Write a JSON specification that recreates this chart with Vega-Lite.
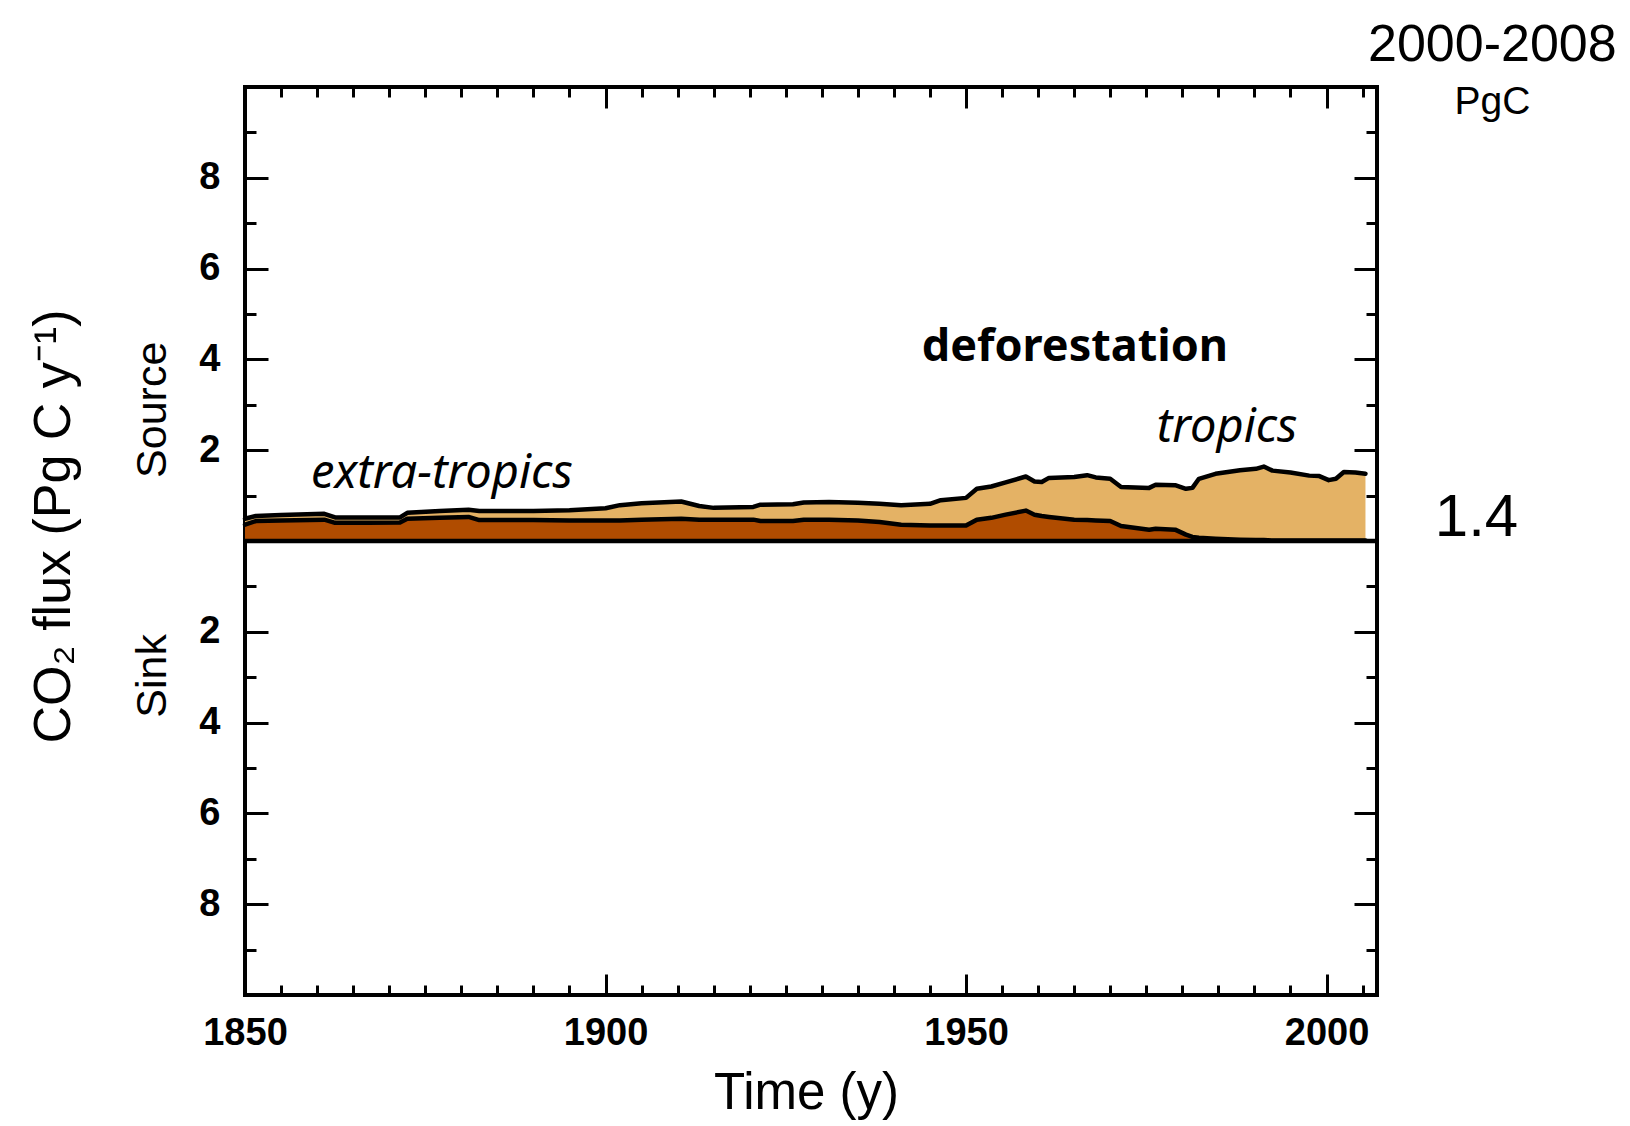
{
  "$schema": "https://vega.github.io/schema/vega-lite/v6.json",
  "autosize": {"type": "none"},
  "width": 1132,
  "height": 908,
  "padding": {"left": 245, "top": 87, "right": 253, "bottom": 131},
  "background": "white",
  "config": {
    "view": {"stroke": "black", "strokeWidth": 4},
    "axis": {"domain": false, "grid": false, "tickColor": "black", "tickWidth": 3, "labelColor": "black", "titleColor": "black"}
  },
  "datasets": {
    "flux": [
      {"year": 1850, "extra-tropics": 0.36, "tropics": 0.13},
      {"year": 1851.5, "extra-tropics": 0.44, "tropics": 0.11},
      {"year": 1855, "extra-tropics": 0.45, "tropics": 0.12},
      {"year": 1861, "extra-tropics": 0.47, "tropics": 0.13},
      {"year": 1862.5, "extra-tropics": 0.40, "tropics": 0.12},
      {"year": 1867, "extra-tropics": 0.40, "tropics": 0.12},
      {"year": 1871.5, "extra-tropics": 0.41, "tropics": 0.11},
      {"year": 1872.5, "extra-tropics": 0.49, "tropics": 0.13},
      {"year": 1877, "extra-tropics": 0.51, "tropics": 0.15},
      {"year": 1881, "extra-tropics": 0.53, "tropics": 0.16},
      {"year": 1882.5, "extra-tropics": 0.46, "tropics": 0.20},
      {"year": 1890, "extra-tropics": 0.46, "tropics": 0.20},
      {"year": 1895, "extra-tropics": 0.45, "tropics": 0.23},
      {"year": 1900, "extra-tropics": 0.45, "tropics": 0.27},
      {"year": 1902, "extra-tropics": 0.45, "tropics": 0.34},
      {"year": 1905, "extra-tropics": 0.47, "tropics": 0.36},
      {"year": 1910.5, "extra-tropics": 0.49, "tropics": 0.38},
      {"year": 1913, "extra-tropics": 0.47, "tropics": 0.30},
      {"year": 1915, "extra-tropics": 0.47, "tropics": 0.26},
      {"year": 1920.5, "extra-tropics": 0.47, "tropics": 0.28},
      {"year": 1921.5, "extra-tropics": 0.44, "tropics": 0.36},
      {"year": 1926, "extra-tropics": 0.44, "tropics": 0.37},
      {"year": 1927.5, "extra-tropics": 0.47, "tropics": 0.38},
      {"year": 1931, "extra-tropics": 0.47, "tropics": 0.39},
      {"year": 1935, "extra-tropics": 0.45, "tropics": 0.39},
      {"year": 1938, "extra-tropics": 0.42, "tropics": 0.40},
      {"year": 1941, "extra-tropics": 0.36, "tropics": 0.43},
      {"year": 1945, "extra-tropics": 0.34, "tropics": 0.48},
      {"year": 1946.5, "extra-tropics": 0.34, "tropics": 0.56},
      {"year": 1950, "extra-tropics": 0.34, "tropics": 0.61},
      {"year": 1951.5, "extra-tropics": 0.47, "tropics": 0.68},
      {"year": 1953.5, "extra-tropics": 0.51, "tropics": 0.69},
      {"year": 1955.5, "extra-tropics": 0.58, "tropics": 0.71},
      {"year": 1958.3, "extra-tropics": 0.67, "tropics": 0.75},
      {"year": 1959.5, "extra-tropics": 0.58, "tropics": 0.73},
      {"year": 1960.5, "extra-tropics": 0.55, "tropics": 0.75},
      {"year": 1961.5, "extra-tropics": 0.53, "tropics": 0.86},
      {"year": 1965, "extra-tropics": 0.47, "tropics": 0.94},
      {"year": 1966.8, "extra-tropics": 0.46, "tropics": 0.99},
      {"year": 1968, "extra-tropics": 0.45, "tropics": 0.95},
      {"year": 1970, "extra-tropics": 0.44, "tropics": 0.93},
      {"year": 1971.5, "extra-tropics": 0.33, "tropics": 0.86},
      {"year": 1975.4, "extra-tropics": 0.25, "tropics": 0.92},
      {"year": 1976.3, "extra-tropics": 0.27, "tropics": 0.97},
      {"year": 1979, "extra-tropics": 0.25, "tropics": 0.98},
      {"year": 1980.5, "extra-tropics": 0.14, "tropics": 1.01},
      {"year": 1981.4, "extra-tropics": 0.09, "tropics": 1.08},
      {"year": 1982.3, "extra-tropics": 0.07, "tropics": 1.30},
      {"year": 1984.6, "extra-tropics": 0.05, "tropics": 1.43},
      {"year": 1988, "extra-tropics": 0.03, "tropics": 1.53},
      {"year": 1990.2, "extra-tropics": 0.02, "tropics": 1.57},
      {"year": 1991.3, "extra-tropics": 0.02, "tropics": 1.62},
      {"year": 1992.5, "extra-tropics": 0.01, "tropics": 1.54},
      {"year": 1995, "extra-tropics": 0.01, "tropics": 1.50},
      {"year": 1997.6, "extra-tropics": 0.01, "tropics": 1.43},
      {"year": 1999, "extra-tropics": 0.01, "tropics": 1.42},
      {"year": 2000.3, "extra-tropics": 0.01, "tropics": 1.33},
      {"year": 2001.3, "extra-tropics": 0.01, "tropics": 1.36},
      {"year": 2002.4, "extra-tropics": 0.01, "tropics": 1.51},
      {"year": 2004, "extra-tropics": 0.01, "tropics": 1.50},
      {"year": 2005.4, "extra-tropics": 0.01, "tropics": 1.47}
    ]
  },
  "layer": [
    {
      "data": {"name": "flux"},
      "transform": [
        {"fold": ["extra-tropics", "tropics"], "as": ["region", "flux"]},
        {"stack": "flux", "groupby": ["year"], "sort": [{"field": "region", "order": "ascending"}], "as": ["y0", "y1"]}
      ],
      "mark": {"type": "area", "interpolate": "linear"},
      "encoding": {
        "x": {
          "field": "year", "type": "quantitative",
          "scale": {"domain": [1850, 2007], "nice": false, "zero": false},
          "axis": {
            "orient": "bottom",
            "values": [1850,1855,1860,1865,1870,1875,1880,1885,1890,1895,1900,1905,1910,1915,1920,1925,1930,1935,1940,1945,1950,1955,1960,1965,1970,1975,1980,1985,1990,1995,2000,2005],
            "format": "d",
            "tickSize": {"condition": {"test": "datum.value % 50 === 0", "value": -21}, "value": -10},
            "labelExpr": "datum.value % 50 === 0 ? datum.label : ''",
            "labelFont": "Liberation Sans", "labelFontSize": 38, "labelFontWeight": "bold",
            "labelPadding": 40, "labelFlush": false, "labelOverlap": false,
            "title": "Time (y)",
            "titleFont": "Liberation Sans",
            "titleFontSize": 51, "titleFontWeight": "normal",
            "titleX": 561, "titleY": 113, "titleAlign": "center", "titleBaseline": "alphabetic", "titleAnchor": null
          }
        },
        "y": {
          "field": "y1", "type": "quantitative",
          "scale": {"domain": [-10, 10], "nice": false, "zero": false},
          "axis": {
            "orient": "left",
            "values": [-9,-8,-7,-6,-5,-4,-3,-2,-1,1,2,3,4,5,6,7,8,9],
            "tickSize": {"condition": {"test": "datum.value % 2 === 0", "value": -23}, "value": -11},
            "labelExpr": "datum.value % 2 === 0 ? '' + abs(datum.value) : ''",
            "labelFont": "Liberation Sans", "labelFontSize": 38, "labelFontWeight": "bold",
            "labelPadding": 48, "labelFlush": false, "labelOverlap": false,
            "title": "CO₂ flux (Pg C y⁻¹)",
            "titleFont": "Liberation Sans",
            "titleFontSize": 52, "titleFontWeight": "normal",
            "titleAngle": 270, "titleX": -176, "titleY": 439, "titleAlign": "center", "titleBaseline": "alphabetic", "titleAnchor": null
          }
        },
        "y2": {"field": "y0"},
        "color": {
          "field": "region", "type": "nominal",
          "scale": {"domain": ["extra-tropics", "tropics"], "range": ["#B04C00", "#E4B265"]},
          "legend": null
        }
      }
    },
    {
      "data": {"name": "flux"},
      "transform": [
        {"fold": ["extra-tropics", "tropics"], "as": ["region", "flux"]},
        {"stack": "flux", "groupby": ["year"], "sort": [{"field": "region", "order": "ascending"}], "as": ["y0", "y1"]}
      ],
      "mark": {"type": "line", "color": "black", "strokeWidth": 4.5, "strokeJoin": "round", "strokeCap": "round"},
      "encoding": {
        "x": {
          "field": "year", "type": "quantitative",
          "scale": {"domain": [1850, 2007], "nice": false, "zero": false},
          "axis": {
            "orient": "top",
            "values": [1850,1855,1860,1865,1870,1875,1880,1885,1890,1895,1900,1905,1910,1915,1920,1925,1930,1935,1940,1945,1950,1955,1960,1965,1970,1975,1980,1985,1990,1995,2000,2005],
            "tickSize": {"condition": {"test": "datum.value % 50 === 0", "value": -21}, "value": -10},
            "labels": false, "title": null
          }
        },
        "y": {
          "field": "y1", "type": "quantitative",
          "scale": {"domain": [-10, 10], "nice": false, "zero": false},
          "axis": {
            "orient": "right",
            "values": [-9,-8,-7,-6,-5,-4,-3,-2,-1,1,2,3,4,5,6,7,8,9],
            "tickSize": {"condition": {"test": "datum.value % 2 === 0", "value": -23}, "value": -11},
            "labels": false, "title": null
          }
        },
        "detail": {"field": "region", "type": "nominal"}
      }
    },
    {
      "data": {"values": [{"v": 0}]},
      "mark": {"type": "rule", "color": "black", "strokeWidth": 4.5},
      "encoding": {
        "y": {"field": "v", "type": "quantitative", "scale": {"domain": [-10, 10], "nice": false, "zero": false}, "axis": null}
      }
    },
    {
      "data": {"values": [{"t": "deforestation"}]},
      "mark": {"type": "text", "font": "Noto Sans", "fontWeight": "bold", "fontSize": 45, "align": "center", "baseline": "alphabetic", "color": "black"},
      "encoding": {
        "x": {"datum": 1965.1, "type": "quantitative", "scale": {"domain": [1850, 2007], "nice": false, "zero": false}, "axis": null},
        "y": {"datum": 3.97, "type": "quantitative", "scale": {"domain": [-10, 10], "nice": false, "zero": false}, "axis": null},
        "text": {"field": "t"}
      }
    },
    {
      "data": {"values": [{"t": "extra-tropics", "year": 1877.3, "v": 1.16}, {"t": "tropics", "year": 1986.2, "v": 2.19}]},
      "mark": {"type": "text", "font": "Noto Sans", "fontStyle": "italic", "fontSize": 47, "align": "center", "baseline": "alphabetic", "color": "black"},
      "encoding": {
        "x": {"field": "year", "type": "quantitative", "scale": {"domain": [1850, 2007], "nice": false, "zero": false}, "axis": null},
        "y": {"field": "v", "type": "quantitative", "scale": {"domain": [-10, 10], "nice": false, "zero": false}, "axis": null},
        "text": {"field": "t"}
      }
    },
    {
      "data": {"values": [{"t": "2000-2008"}]},
      "mark": {"type": "text", "font": "Liberation Sans", "fontSize": 52, "align": "center", "baseline": "alphabetic", "color": "black"},
      "encoding": {
        "x": {"datum": 2023, "type": "quantitative", "scale": {"domain": [1850, 2007], "nice": false, "zero": false}, "axis": null},
        "y": {"datum": 10.58, "type": "quantitative", "scale": {"domain": [-10, 10], "nice": false, "zero": false}, "axis": null},
        "text": {"field": "t"}
      }
    },
    {
      "data": {"values": [{"t": "PgC"}]},
      "mark": {"type": "text", "font": "Liberation Sans", "fontSize": 39, "align": "center", "baseline": "alphabetic", "color": "black"},
      "encoding": {
        "x": {"datum": 2023, "type": "quantitative", "scale": {"domain": [1850, 2007], "nice": false, "zero": false}, "axis": null},
        "y": {"datum": 9.4, "type": "quantitative", "scale": {"domain": [-10, 10], "nice": false, "zero": false}, "axis": null},
        "text": {"field": "t"}
      }
    },
    {
      "data": {"values": [{"t": "1.4"}]},
      "mark": {"type": "text", "font": "Liberation Sans", "fontSize": 60, "align": "center", "baseline": "alphabetic", "color": "black"},
      "encoding": {
        "x": {"datum": 2020.8, "type": "quantitative", "scale": {"domain": [1850, 2007], "nice": false, "zero": false}, "axis": null},
        "y": {"datum": 0.1, "type": "quantitative", "scale": {"domain": [-10, 10], "nice": false, "zero": false}, "axis": null},
        "text": {"field": "t"}
      }
    },
    {
      "data": {"values": [{"t": "Source", "v": 2.89}, {"t": "Sink", "v": -2.97}]},
      "mark": {"type": "text", "font": "Liberation Sans", "fontSize": 43, "angle": 270, "align": "center", "baseline": "alphabetic", "color": "black"},
      "encoding": {
        "x": {"datum": 1839.05, "type": "quantitative", "scale": {"domain": [1850, 2007], "nice": false, "zero": false}, "axis": null},
        "y": {"field": "v", "type": "quantitative", "scale": {"domain": [-10, 10], "nice": false, "zero": false}, "axis": null},
        "text": {"field": "t"}
      }
    }
  ],
  "resolve": {"axis": {"x": "independent", "y": "independent"}}
}
